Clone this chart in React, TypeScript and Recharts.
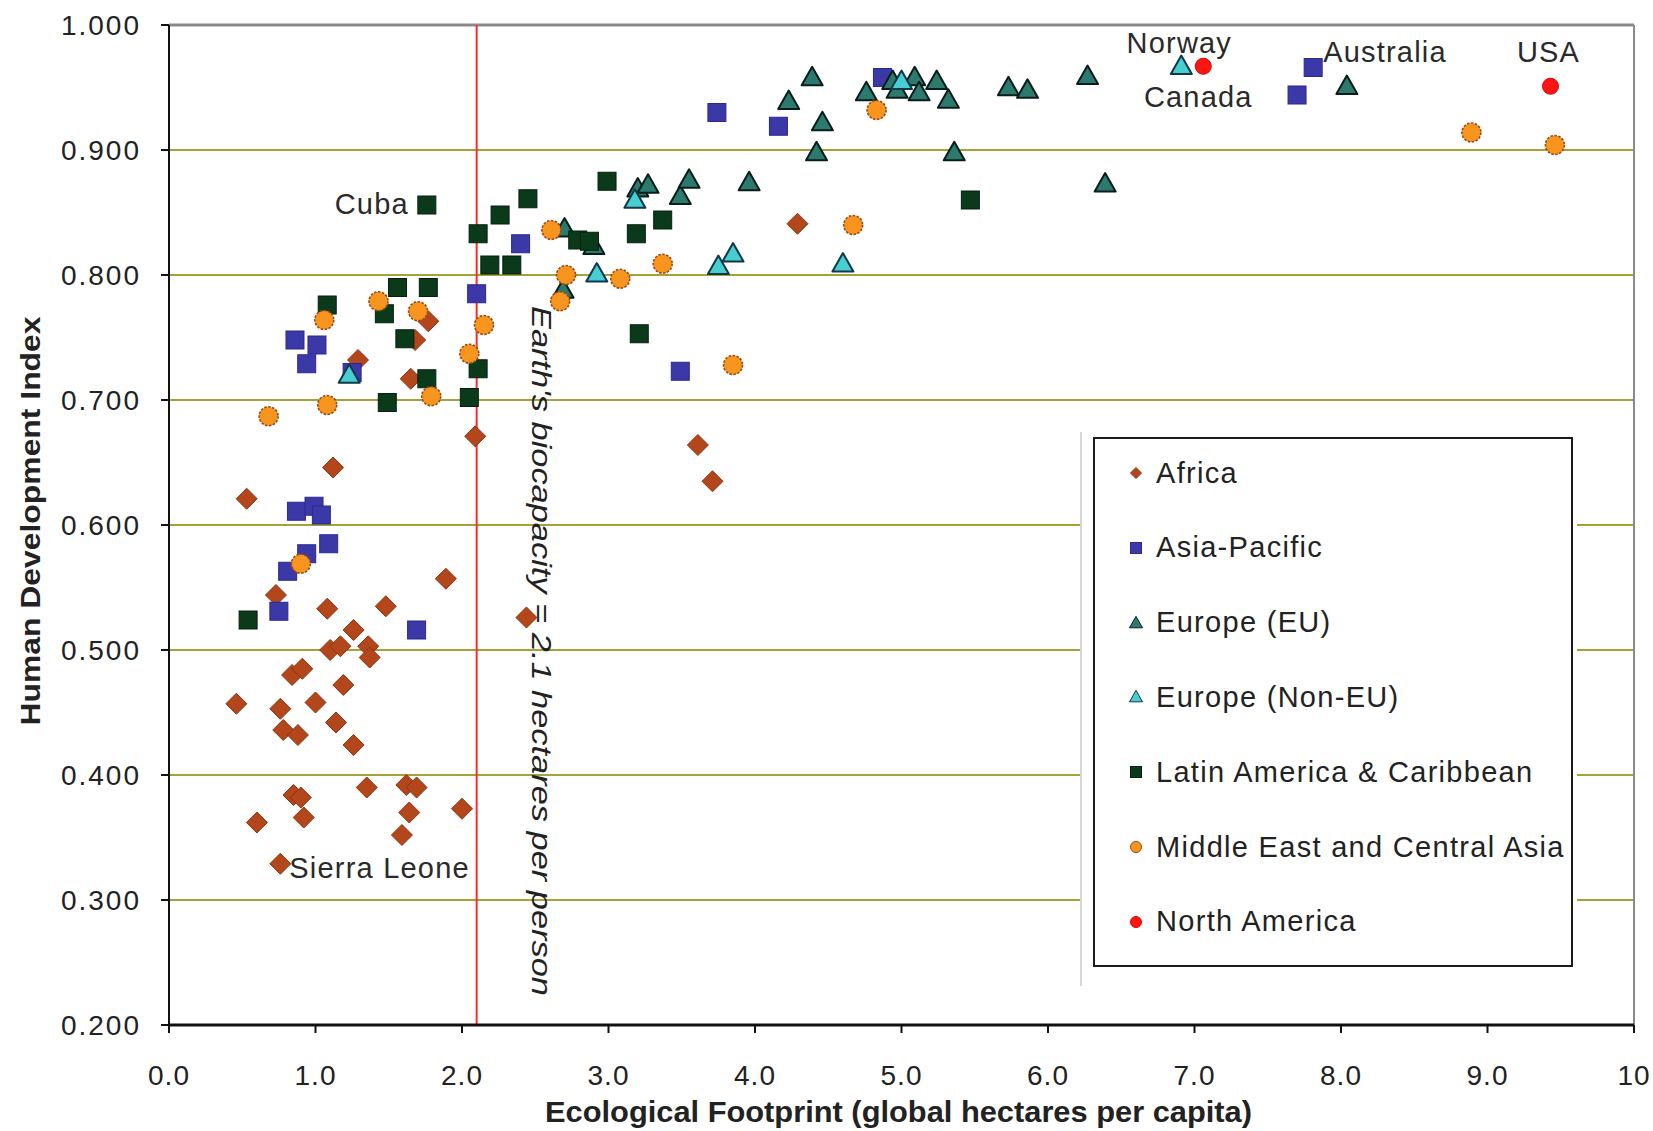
import React from 'react';
import {
  ScatterChart,
  Scatter,
  XAxis,
  YAxis,
  CartesianGrid,
  ReferenceLine,
  ReferenceDot,
  Legend,
} from 'recharts';

const xTicks = [0, 1, 2, 3, 4, 5, 6, 7, 8, 9, 10];
const yTicks = [0.2, 0.3, 0.4, 0.5, 0.6, 0.7, 0.8, 0.9, 1.0];
const biocapacity = 2.1;

// [footprint, HDI]
const africa: [number, number][] = [
  [0.76, 0.329], [0.46, 0.457], [0.53, 0.621], [0.6, 0.362], [0.73, 0.544],
  [0.76, 0.453], [0.78, 0.436], [0.84, 0.48], [0.85, 0.384], [0.91, 0.485],
  [0.9, 0.382], [0.88, 0.432], [0.92, 0.366], [1.0, 0.458], [1.08, 0.533],
  [1.1, 0.5], [1.17, 0.503], [1.12, 0.646], [1.14, 0.442], [1.19, 0.472],
  [1.26, 0.424], [1.26, 0.516], [1.36, 0.503], [1.37, 0.494], [1.35, 0.39],
  [1.48, 0.535], [1.29, 0.732], [1.59, 0.352], [1.62, 0.392], [1.64, 0.37],
  [1.69, 0.39], [1.65, 0.717], [1.77, 0.763], [1.68, 0.748], [1.89, 0.557],
  [2.0, 0.373], [2.09, 0.671], [2.44, 0.526], [3.61, 0.664], [3.71, 0.635],
  [4.29, 0.841],
];
const asiaPacific: [number, number][] = [
  [0.75, 0.531], [0.81, 0.563], [0.94, 0.577], [1.09, 0.585], [0.87, 0.611],
  [0.99, 0.615], [1.04, 0.608], [1.69, 0.516], [0.86, 0.748], [1.01, 0.744],
  [0.94, 0.729], [1.25, 0.722], [2.1, 0.785], [2.4, 0.825], [3.49, 0.723],
  [3.74, 0.93], [4.16, 0.919], [4.87, 0.958], [7.7, 0.944], [7.81, 0.966],
];
const europeEU: [number, number][] = [
  [2.7, 0.837], [2.9, 0.823], [2.69, 0.788], [3.2, 0.869], [3.27, 0.872],
  [3.49, 0.863], [3.55, 0.876], [3.96, 0.874], [4.23, 0.939], [4.39, 0.958],
  [4.46, 0.922], [4.42, 0.898], [4.76, 0.946], [4.94, 0.955], [4.97, 0.948],
  [5.09, 0.958], [5.12, 0.946], [5.24, 0.955], [5.32, 0.94], [5.36, 0.898],
  [5.73, 0.95], [5.86, 0.948], [6.27, 0.959], [6.39, 0.873], [8.04, 0.951],
];
const europeNonEU: [number, number][] = [
  [1.23, 0.72], [2.92, 0.801], [3.18, 0.86], [3.75, 0.807], [3.85, 0.817],
  [4.6, 0.809], [5.0, 0.955], [6.91, 0.967],
];
const latinAmerica: [number, number][] = [
  [1.76, 0.856], [0.54, 0.524], [1.08, 0.776], [1.47, 0.769], [1.56, 0.79],
  [1.77, 0.79], [1.61, 0.749], [1.76, 0.717], [1.49, 0.698], [2.05, 0.702],
  [2.11, 0.725], [2.11, 0.833], [2.26, 0.848], [2.45, 0.861], [2.19, 0.808],
  [2.34, 0.808], [2.79, 0.828], [2.87, 0.827], [2.99, 0.875], [3.19, 0.833],
  [3.37, 0.844], [3.21, 0.753], [5.47, 0.86],
];
const middleEast: [number, number][] = [
  [0.68, 0.687], [0.9, 0.569], [1.06, 0.764], [1.08, 0.696], [1.43, 0.779],
  [1.7, 0.771], [1.79, 0.703], [2.05, 0.737], [2.15, 0.76], [2.61, 0.836],
  [2.71, 0.8], [2.67, 0.779], [3.08, 0.797], [3.37, 0.809], [3.85, 0.728],
  [4.67, 0.84], [4.83, 0.932], [8.89, 0.914], [9.46, 0.904],
];
const northAmerica: [number, number][] = [
  [7.06, 0.967], [9.43, 0.951],
];

type Kind = 'diamond' | 'square' | 'triangle' | 'circle';

const series = [
  { name: 'Africa', rows: africa, kind: 'diamond' as Kind, fill: '#b3461a', stroke: '#8c3412', sw: 1, size: 21 },
  { name: 'Asia-Pacific', rows: asiaPacific, kind: 'square' as Kind, fill: '#3b39a8', stroke: '#2b2990', sw: 1, size: 18 },
  { name: 'Europe (EU)', rows: europeEU, kind: 'triangle' as Kind, fill: '#2c7a6e', stroke: '#0a1d1a', sw: 2, size: 21 },
  { name: 'Europe (Non-EU)', rows: europeNonEU, kind: 'triangle' as Kind, fill: '#46cfd0', stroke: '#12364a', sw: 2, size: 21 },
  { name: 'Latin America & Caribbean', rows: latinAmerica, kind: 'square' as Kind, fill: '#0b3a1b', stroke: '#05200d', sw: 1, size: 18 },
  { name: 'Middle East and Central Asia', rows: middleEast, kind: 'circle' as Kind, fill: '#f7951f', stroke: '#9a4812', sw: 1.6, size: 19 },
  { name: 'North America', rows: northAmerica, kind: 'circle' as Kind, fill: '#ff1414', stroke: '#e00000', sw: 1, size: 16 },
];

const notes = [
  { text: 'Cuba', at: latinAmerica[0], dx: -18, dy: 9, anchor: 'end' },
  { text: 'Sierra Leone', at: africa[0], dx: 9, dy: 14, anchor: 'start' },
  { text: 'Norway', at: europeNonEU[7], dx: -2, dy: -13, anchor: 'middle' },
  { text: 'Canada', at: northAmerica[0], dx: -5, dy: 41, anchor: 'middle' },
  { text: 'Australia', at: asiaPacific[19], dx: 10, dy: -6, anchor: 'start' },
  { text: 'USA', at: northAmerica[1], dx: -2, dy: -24, anchor: 'middle' },
];

const font = '"Liberation Sans", Arial, sans-serif';

function Marker(props: any) {
  const { kind, cx, cy, fill, stroke, sw, size, dashed } = props;
  const s = size / 2;
  if (kind === 'diamond') {
    return <path d={`M${cx},${cy - s}L${cx + s},${cy}L${cx},${cy + s}L${cx - s},${cy}Z`} fill={fill} stroke={stroke} strokeWidth={sw} />;
  }
  if (kind === 'square') {
    return <rect x={cx - s} y={cy - s} width={size} height={size} fill={fill} stroke={stroke} strokeWidth={sw} />;
  }
  if (kind === 'triangle') {
    const h = size * 0.88;
    return <path d={`M${cx},${cy - h * 0.58}L${cx + s},${cy + h * 0.42}L${cx - s},${cy + h * 0.42}Z`} fill={fill} stroke={stroke} strokeWidth={sw} strokeLinejoin="round" />;
  }
  return <circle cx={cx} cy={cy} r={s} fill={fill} stroke={stroke} strokeWidth={sw} strokeDasharray={dashed ? '2.5 1.5' : undefined} />;
}

const YTick = (props: any) => {
  const { x, y, payload } = props;
  return (
    <text x={x} y={y} dy="0.36em" textAnchor="end" fill="#222" fontSize={28} letterSpacing={2} fontFamily={font}>
      {payload.value.toFixed(3)}
    </text>
  );
};

const XTick = (props: any) => {
  const { x, y, payload } = props;
  return (
    <text x={x} y={y} dy="0.71em" textAnchor="middle" fill="#222" fontSize={28} letterSpacing={1} fontFamily={font}>
      {payload.value === 10 ? '10' : payload.value.toFixed(1)}
    </text>
  );
};

const YTitle = (props: any) => {
  const vb = props.viewBox;
  const cx = vb.x + 30;
  const cy = vb.y + vb.height / 2 - 4;
  return (
    <text x={cx} y={cy} transform={`rotate(-90 ${cx} ${cy})`} textAnchor="middle" dominantBaseline="central"
      fontWeight="bold" fontSize={28} fill="#222" fontFamily={font} textLength={409} lengthAdjust="spacingAndGlyphs">
      Human Development Index
    </text>
  );
};

const XTitle = (props: any) => {
  const vb = props.viewBox;
  return (
    <text x={vb.x + vb.width / 2 - 3} y={vb.y + 97} textAnchor="middle" fontWeight="bold" fontSize={30} fill="#222"
      fontFamily={font} textLength={707} lengthAdjust="spacingAndGlyphs">
      Ecological Footprint (global hectares per capita)
    </text>
  );
};

const BioLabel = (props: any) => {
  const vb = props.viewBox;
  const bx = vb.x + 55;
  const cy = vb.y + vb.height * 0.626;
  return (
    <text x={bx} y={cy} transform={`rotate(90 ${bx} ${cy})`} textAnchor="middle" fontStyle="italic" fontSize={28}
      fill="#222" fontFamily={font} textLength={690} lengthAdjust="spacingAndGlyphs">
      Earth's biocapacity = 2.1 hectares per person
    </text>
  );
};

const Note = (props: any) => {
  const { viewBox, text, dx, dy, anchor } = props;
  const x = viewBox.x + viewBox.width / 2 + dx;
  const y = viewBox.y + viewBox.height / 2 + dy;
  return (
    <text x={x} y={y} textAnchor={anchor} fontSize={29} letterSpacing={1.2} fill="#2a2a2a" fontFamily={font}>
      {text}
    </text>
  );
};

const LegendBox = () => (
  <div style={{ position: 'relative', width: 497, height: 554, background: '#fff', borderLeft: '2px solid #d6d6d6', boxSizing: 'border-box' }}>
    <div style={{ position: 'absolute', left: 11, top: 5, width: 480, height: 530, border: '2px solid #1c1c1c', boxSizing: 'border-box' }}>
      {series.map((s, i) => (
        <div key={s.name} style={{ position: 'absolute', left: 31, top: 34 + i * 74.8 - 18, height: 36, display: 'flex', alignItems: 'center', whiteSpace: 'nowrap' }}>
          <svg width={20} height={20}>
            <Marker kind={s.kind} cx={10} cy={10} fill={s.fill} stroke={s.stroke} sw={1} size={s.kind === 'triangle' ? 13 : 11} dashed={false} />
          </svg>
          <span style={{ marginLeft: 10, fontSize: 29, letterSpacing: 1.3, color: '#222', fontFamily: font }}>{s.name}</span>
        </div>
      ))}
    </div>
  </div>
);

export default function App() {
  return (
    <div style={{ position: 'absolute', left: 0, top: 0, width: 1653, height: 1131, background: '#fff', fontFamily: font }}>
      <ScatterChart width={1653} height={1131} margin={{ top: 25, right: 19, bottom: 0, left: 0 }}>
        <CartesianGrid horizontal vertical={false} stroke="#a3a33a" strokeWidth={2} />
        <XAxis type="number" dataKey="x" domain={[0, 10]} ticks={xTicks} interval={0} height={106}
          tick={<XTick />} tickSize={8} tickMargin={32} axisLine={{ stroke: '#111', strokeWidth: 3 }}
          tickLine={{ stroke: '#111', strokeWidth: 2 }} allowDataOverflow label={<XTitle />} />
        <YAxis type="number" dataKey="y" domain={[0.2, 1.0]} ticks={yTicks} interval={0} width={169}
          tick={<YTick />} tickSize={8} tickMargin={20} axisLine={{ stroke: '#111', strokeWidth: 2 }}
          tickLine={{ stroke: '#111', strokeWidth: 2 }} allowDataOverflow label={<YTitle />} />
        <ReferenceLine y={1} stroke="#8a8a8a" strokeWidth={3} />
        <ReferenceLine x={10} stroke="#8a8a8a" strokeWidth={2} />
        <ReferenceLine x={biocapacity} stroke="#ff2a2a" strokeWidth={2} label={<BioLabel />} />
        {series.map((s) => (
          <Scatter
            key={s.name}
            name={s.name}
            data={s.rows.map(([x, y]) => ({ x, y }))}
            isAnimationActive={false}
            shape={(p: any) => (
              <Marker kind={s.kind} cx={p.cx} cy={p.cy} fill={s.fill} stroke={s.stroke} sw={s.sw} size={s.size}
                dashed={s.name === 'Middle East and Central Asia'} />
            )}
          />
        ))}
        {notes.map((n) => (
          <ReferenceDot key={n.text} x={n.at[0]} y={n.at[1]} r={1} fill="none" stroke="none"
            label={<Note text={n.text} dx={n.dx} dy={n.dy} anchor={n.anchor} />} />
        ))}
        <Legend layout="vertical" align="center" verticalAlign="middle" content={() => <LegendBox />}
          wrapperStyle={{ left: 1080, top: 432, width: 497, height: 554 }} />
      </ScatterChart>
    </div>
  );
}
